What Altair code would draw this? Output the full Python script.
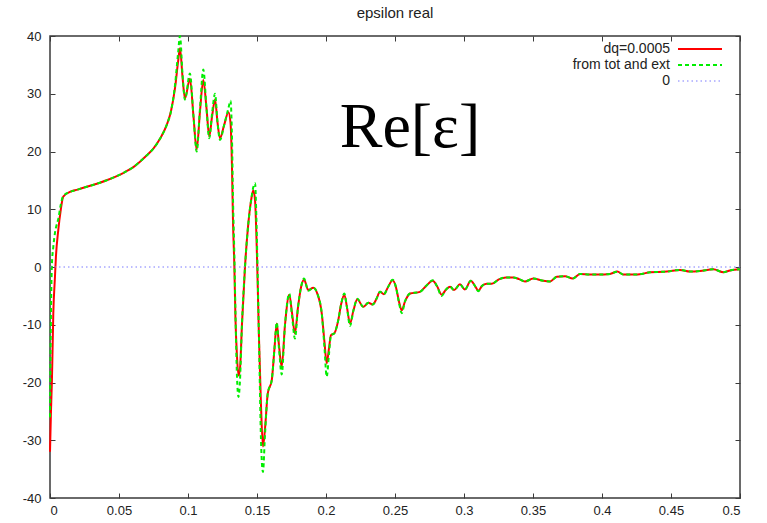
import altair as alt
import pandas as pd

x_vals = [0.0000, 0.0007, 0.0014, 0.0024, 0.0036, 0.0043, 0.0060, 0.0078, 0.0096, 0.0145,
          0.0200, 0.0254, 0.0310, 0.0362, 0.0420, 0.0480, 0.0540, 0.0604, 0.0650, 0.0700,
          0.0749, 0.0797, 0.0846, 0.0877, 0.0906,
          0.0928, 0.0942, 0.0960, 0.0978, 0.1014, 0.1040, 0.1063, 0.1087, 0.1111, 0.1134,
          0.1154, 0.1174, 0.1196, 0.1214, 0.1232, 0.1261, 0.1293, 0.1308, 0.1319, 0.1326,
          0.1336, 0.1344, 0.1355, 0.1366, 0.1377, 0.1391, 0.1413, 0.1435, 0.1457, 0.1473,
          0.1486, 0.1495, 0.1502, 0.1514, 0.1529, 0.1543, 0.1558, 0.1578, 0.1607, 0.1627,
          0.1643, 0.1659, 0.1679, 0.1703, 0.1734, 0.1754, 0.1775, 0.1797, 0.1819, 0.1841,
          0.1872, 0.1908, 0.1937, 0.1969, 0.1989, 0.2005, 0.2022, 0.2036, 0.2060, 0.2089,
          0.2109, 0.2133, 0.2152, 0.2174, 0.2199, 0.2227, 0.2270, 0.2307, 0.2338, 0.2366,
          0.2391, 0.2420, 0.2449, 0.2483, 0.2507, 0.2529, 0.2549, 0.2572, 0.2609, 0.2681,
          0.2725, 0.2773, 0.2804, 0.2838, 0.2870, 0.2899, 0.2928, 0.2971, 0.3007, 0.3049,
          0.3080, 0.3104, 0.3130, 0.3164, 0.3201, 0.3256, 0.3304, 0.3357, 0.3399, 0.3442,
          0.3502, 0.3575, 0.3623, 0.3672, 0.3732, 0.3788, 0.3841, 0.3913, 0.3973, 0.4058,
          0.4111, 0.4154, 0.4227, 0.4288, 0.4348, 0.4469, 0.4565, 0.4638, 0.4710, 0.4807,
          0.4879, 0.4928, 0.5000]

red_vals = [-32.0, -25.0, -19.6, -8.0, -1.7, 1.8, 6.4, 9.9, 12.2, 13.0,
            13.4, 13.8, 14.2, 14.6, 15.1, 15.7, 16.4, 17.3, 18.2, 19.3,
            20.5, 22.2, 24.6, 27.0, 31.0,
            35.5, 37.9, 33.0, 29.2, 32.6, 26.0, 20.3, 27.0, 32.4, 27.5,
            22.6, 26.0, 29.0, 25.0, 22.3, 24.5, 26.8, 25.0, 17.0, 8.0,
            0.0, -9.0, -15.5, -18.8, -17.5, -10.0, 0.0, 7.0, 11.5, 13.3,
            11.5, 6.0, 0.0, -12.0, -24.0, -31.1, -28.0, -21.9, -19.6, -14.0,
            -9.8, -13.5, -17.3, -10.0, -4.8, -8.0, -11.5, -7.0, -3.5, -2.2,
            -4.0, -3.6, -4.6, -8.0, -13.0, -16.7, -14.0, -11.8, -11.5, -9.2,
            -6.5, -4.8, -7.0, -9.8, -7.5, -5.6, -6.9, -6.2, -6.5, -5.5,
            -4.3, -4.7, -3.5, -2.3, -3.5, -6.0, -7.5, -6.0, -4.6, -4.3,
            -3.3, -2.4, -3.3, -4.8, -3.9, -3.4, -4.0, -3.0, -3.9, -2.4,
            -3.3, -4.1, -3.3, -2.9, -2.9, -2.1, -1.8, -1.8, -2.1, -2.5,
            -2.0, -2.4, -2.5, -1.7, -1.6, -2.0, -1.2, -1.3, -1.3, -1.2,
            -0.8, -1.3, -1.3, -1.2, -0.9, -0.8, -0.5, -0.8, -0.7, -0.4,
            -0.9, -0.6, -0.4]

green_vals = [-26.0, -8.0, 0.5, 3.5, 5.9, 6.8, 8.3, 10.8, 12.3, 13.0,
              13.4, 13.8, 14.2, 14.6, 15.1, 15.7, 16.4, 17.3, 18.2, 19.3,
              20.5, 22.2, 24.6, 27.0, 31.5,
              37.0, 40.0, 33.5, 29.0, 33.5, 26.0, 20.0, 27.5, 34.2, 27.5,
              22.3, 26.5, 30.0, 25.0, 22.0, 24.5, 27.5, 28.8, 22.0, 12.0,
              2.0, -8.0, -19.0, -22.5, -19.5, -10.0, 0.0, 7.0, 11.5, 13.8,
              14.5, 9.0, 2.0, -12.0, -30.0, -35.5, -29.0, -21.9, -19.6, -14.0,
              -9.6, -14.0, -18.6, -10.0, -4.6, -8.5, -12.4, -7.0, -3.5, -2.0,
              -4.1, -3.6, -4.6, -8.0, -14.0, -19.0, -15.0, -11.8, -11.5, -9.2,
              -6.5, -4.6, -7.0, -10.2, -7.5, -5.5, -6.9, -6.2, -6.5, -5.5,
              -4.3, -4.7, -3.5, -2.2, -3.5, -6.2, -8.0, -6.0, -4.6, -4.3,
              -3.3, -2.3, -3.3, -5.0, -3.9, -3.4, -4.0, -3.0, -3.9, -2.4,
              -3.3, -4.2, -3.3, -2.9, -2.9, -2.1, -1.8, -1.8, -2.1, -2.5,
              -2.0, -2.4, -2.5, -1.7, -1.6, -2.0, -1.2, -1.3, -1.3, -1.2,
              -0.8, -1.3, -1.3, -1.2, -0.9, -0.8, -0.5, -0.8, -0.7, -0.4,
              -0.9, -0.6, -0.4]

zero_vals = [0]
x_ticks = [0, 0.05, 0.1, 0.15, 0.2, 0.25, 0.3, 0.35, 0.4, 0.45, 0.5]
y_ticks = [-40, -30, -20, -10, 0, 10, 20, 30, 40]
legend_labels = ["dq=0.0005", "from tot and ext", "0"]
legend_colors = ["#ff0000", "#00ee00", "#7b7bff"]
legend_dashes = [[1, 0], [4, 3], [1.5, 3]]
title_text = "epsilon real"
annotation = "Re[\u03b5]"

red_df = pd.DataFrame({"q": x_vals, "eps": red_vals})
green_df = pd.DataFrame({"q": x_vals, "eps": green_vals})
zero_df = pd.DataFrame({"v": zero_vals})
one_df = pd.DataFrame({"k": [0]})

FONT = "Liberation Sans"
AX = "#3a3a3a"
W, H = 690, 462

xscale = alt.Scale(domain=[0, 0.5], nice=False, zero=False)
yscale = alt.Scale(domain=[-40, 40], nice=False)


def xaxis(orient, labels):
    return alt.Axis(orient=orient, values=x_ticks, labels=labels,
                    labelExpr="'' + datum.value", title=None, domain=False,
                    grid=False, ticks=True, tickSize=5, offset=-5,
                    tickColor=AX, tickWidth=1, labelFont=FONT,
                    labelFontSize=13, labelColor="#222222", labelPadding=6)


def yaxis(orient, labels):
    return alt.Axis(orient=orient, values=y_ticks, labels=labels,
                    labelExpr="'' + datum.value", title=None, domain=False,
                    grid=False, ticks=True, tickSize=5, offset=-5,
                    tickColor=AX, tickWidth=1, labelFont=FONT,
                    labelFontSize=13, labelColor="#222222", labelPadding=9)


red = alt.Chart(red_df).mark_line(
    color=legend_colors[0], strokeWidth=2, interpolate="monotone"
).encode(
    x=alt.X("q:Q", scale=xscale, axis=xaxis("bottom", True)),
    y=alt.Y("eps:Q", scale=yscale, axis=yaxis("left", True)),
)

green = alt.Chart(green_df).mark_line(
    color=legend_colors[1], strokeWidth=2, strokeDash=legend_dashes[1],
    interpolate="monotone"
).encode(
    x=alt.X("q:Q", scale=xscale, axis=xaxis("top", False)),
    y=alt.Y("eps:Q", scale=yscale, axis=yaxis("right", False)),
)

zero = alt.Chart(zero_df).mark_rule(
    color=legend_colors[2], strokeWidth=1, strokeDash=legend_dashes[2]
).encode(y=alt.Y("v:Q", scale=yscale, axis=None))

layers = [red, green, zero]

row_y = [13, 29, 45]
for i, lab in enumerate(legend_labels):
    layers.append(
        alt.Chart(one_df).mark_text(
            align="right", baseline="middle", font=FONT, fontSize=14,
            color="#222222"
        ).encode(x=alt.value(620), y=alt.value(row_y[i]), text=alt.value(lab))
    )
    layers.append(
        alt.Chart(one_df).mark_rule(
            color=legend_colors[i], strokeWidth=2 if i < 2 else 1,
            strokeDash=legend_dashes[i]
        ).encode(x=alt.value(628), x2=alt.value(672), y=alt.value(row_y[i]))
    )

layers.append(
    alt.Chart(one_df).mark_text(
        align="center", baseline="alphabetic", font="Liberation Serif",
        fontSize=64, color="black"
    ).encode(x=alt.value(360), y=alt.value(111), text=alt.value(annotation))
)

chart = alt.layer(*layers).resolve_axis(
    x="independent", y="independent"
).properties(
    width=W, height=H,
    title=alt.TitleParams(title_text, font=FONT, fontSize=15,
                          fontWeight="normal", color="#222222", offset=9,
                          anchor="middle"),
    autosize=alt.AutoSizeParams(type="none"),
    padding={"left": 50, "top": 36, "right": 27, "bottom": 25},
    background="white",
).configure_view(stroke=AX, strokeWidth=1.5)

chart.save("out.html", embed_options={"renderer": "svg", "actions": False})
